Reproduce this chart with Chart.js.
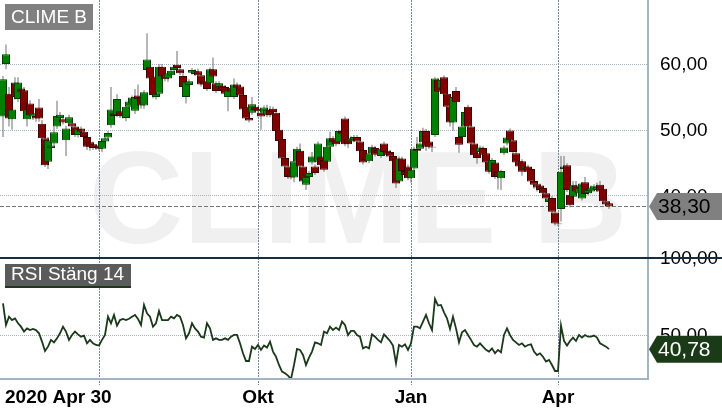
<!DOCTYPE html>
<html>
<head>
<meta charset="utf-8">
<title>CLIME B</title>
<script src="https://cdn.jsdelivr.net/npm/chart.js@4.4.1/dist/chart.umd.min.js"></script>
<style>
    html, body { margin: 0; padding: 0; background: #ffffff; }
    #wrap { position: relative; width: 722px; height: 411px; overflow: hidden; }
    #priceChart { position: absolute; left: 0; top: 0; }
    #rsiChart { position: absolute; left: 0; top: 240px; }
</style>
</head>
<body>
<div id="wrap">
    <canvas id="priceChart" width="722" height="258"></canvas>
    <canvas id="rsiChart" width="722" height="171"></canvas>
</div>
<script>
// ==========================
// DATA (daily, 2020 Apr 30 -> 2021 May)
// ==========================
const ticker = "CLIME B";
const rsiTitle = "RSI Stäng 14";

const opens = [
    52.0, 60.0, 55.5, 51.6, 57.2, 54.7, 56.3, 56.0, 51.6, 54.0,
    52.0, 52.1, 53.4, 50.9, 48.7, 45.1, 47.2, 47.9, 50.5, 51.8,
    51.6, 48.4, 51.0, 51.0, 50.5, 49.2, 50.2, 49.7, 48.9, 48.1,
    47.8, 47.5, 47.6, 47.1, 48.2, 48.8, 50.7, 52.5, 52.2, 52.8,
    52.0, 51.8, 53.5, 54.0, 52.9, 55.2, 55.0, 53.7, 59.1, 59.6,
    58.1, 55.0, 55.5, 59.6, 58.3, 57.8, 58.3, 59.1, 59.9, 59.2,
    58.2, 55.0, 56.8, 58.7, 58.5, 58.9, 58.3, 57.4, 57.3, 57.1,
    59.2, 57.1, 56.5, 56.7, 56.5, 55.0, 56.4, 55.0, 56.9, 56.6,
    55.3, 53.5, 51.8, 52.6, 53.5, 53.2, 52.6, 52.6, 52.2, 53.1,
    53.2, 52.6, 50.0, 48.6, 45.7, 44.4, 43.6, 42.7, 45.2, 46.8,
    44.4, 41.6, 42.8, 45.0, 44.4, 45.1, 45.9, 45.4, 45.1, 47.4,
    48.7, 48.4, 48.1, 49.8, 51.7, 48.6, 48.2, 48.4, 48.9, 48.2,
    46.9, 45.9, 45.2, 46.4, 47.2, 46.9, 46.0, 47.9, 46.8, 46.6,
    46.0, 45.6, 42.1, 45.6, 43.7, 44.4, 42.6, 44.1, 47.1, 47.1,
    48.1, 49.8, 48.2, 47.4, 49.2, 57.6, 56.3, 58.0, 55.5, 53.5,
    51.1, 55.9, 48.9, 48.9, 50.5, 53.5,
    50.5, 47.9, 46.4, 46.6,
    47.2, 46.4, 45.1, 43.6, 45.0, 43.6,
    42.6, 46.4, 47.9, 49.9, 48.4, 46.4, 45.2, 45.2, 44.0,
    44.4, 44.0, 42.2, 41.7, 41.5, 41.1, 40.3, 39.0, 39.6, 37.4, 35.6,
    37.9, 44.0, 44.6, 40.1, 39.8, 41.5, 40.3, 39.5, 42.0, 40.3, 40.6,
    41.0, 40.8, 41.6, 41.0, 39.1, 38.8
];

const highs = [
    58.2, 63.0, 56.5, 53.5, 58.0, 58.0, 57.0, 56.5, 53.6, 54.5,
    52.9, 52.6, 54.7, 51.5, 49.2, 48.9, 48.0, 50.5, 54.4, 52.7,
    52.0, 50.6, 52.3, 51.4, 50.9, 50.4, 50.5, 50.1, 49.3, 48.5,
    48.2, 47.8, 47.9, 48.6, 49.0, 49.8, 56.5, 52.9, 55.4, 53.2,
    52.6, 53.9, 54.6, 55.2, 56.2, 56.9, 55.4, 56.0, 64.7, 60.0,
    58.5, 55.8, 60.0, 60.0, 58.7, 58.9, 59.3, 59.9, 62.0, 59.6,
    58.6, 57.6, 57.7, 59.4, 59.2, 59.3, 58.6, 57.7, 57.6, 59.5,
    61.0, 57.4, 57.4, 57.0, 56.8, 56.3, 56.7, 57.8, 57.2, 56.9,
    55.6, 53.9, 52.1, 55.0, 53.8, 53.5, 52.9, 53.7, 53.8, 53.6,
    53.5, 52.9, 50.3, 48.9, 46.0, 44.7, 43.9, 45.5, 47.4, 47.9,
    44.7, 43.1, 43.7, 46.6, 44.7, 48.2, 46.2, 46.8, 47.7, 49.7,
    49.0, 48.7, 50.0, 51.6, 52.0, 48.9, 49.0, 49.2, 49.2, 48.5,
    47.2, 46.2, 46.7, 47.7, 47.5, 47.2, 47.4, 48.2, 47.1, 46.9,
    46.3, 45.9, 45.9, 45.9, 44.0, 44.7, 44.2, 47.4, 48.9, 48.2,
    50.3, 50.1, 48.5, 47.7, 58.0, 57.9, 57.9, 58.3, 56.0, 54.5,
    55.3, 56.5, 49.2, 50.8, 53.0, 53.8,
    50.8, 48.2, 46.7, 47.6,
    47.5, 46.7, 45.4, 45.7, 45.3, 43.9,
    43.9, 47.6, 49.1, 50.2, 48.7, 46.7, 45.5, 45.5, 44.7,
    44.7, 44.3, 42.5, 42.0, 41.8, 41.4, 40.6, 39.8, 39.9, 37.7, 36.0,
    46.0, 46.0, 44.9, 40.4, 42.2, 42.2, 41.4, 42.0, 42.8, 41.1, 41.5,
    41.7, 41.9, 42.2, 41.3, 39.4, 39.1
];

const lows = [
    48.9, 59.2, 50.5, 50.0, 54.6, 54.2, 55.4, 52.2, 50.5, 51.6,
    51.5, 51.2, 51.2, 48.2, 44.3, 44.0, 46.8, 47.5, 50.1, 51.4,
    50.8, 46.0, 50.6, 50.2, 48.9, 48.8, 49.4, 48.6, 46.9, 46.8,
    46.9, 46.9, 46.8, 46.6, 47.9, 48.5, 50.3, 51.8, 51.9, 51.8,
    51.7, 51.3, 53.2, 53.7, 52.4, 54.5, 53.2, 53.2, 58.8, 57.5,
    54.8, 54.6, 55.2, 57.8, 57.4, 57.3, 58.0, 58.8, 59.2, 58.3,
    56.2, 54.0, 56.5, 58.4, 58.2, 58.0, 56.6, 56.6, 55.9, 56.8,
    57.8, 55.6, 56.2, 55.6, 55.2, 52.8, 55.5, 54.7, 56.1, 54.9,
    52.8, 51.4, 51.1, 52.3, 52.7, 52.5, 50.0, 52.3, 51.9, 51.9,
    52.4, 49.5, 48.0, 45.3, 44.1, 42.5, 42.4, 42.0, 44.9, 44.1,
    41.8, 40.8, 42.5, 44.7, 43.1, 44.8, 44.3, 43.6, 44.8, 47.1,
    47.8, 47.5, 47.8, 49.1, 47.5, 47.2, 47.9, 48.1, 47.9, 46.4,
    44.7, 45.1, 44.9, 46.1, 45.9, 46.1, 45.7, 46.3, 45.9, 45.6,
    44.9, 41.1, 41.8, 43.4, 42.8, 42.3, 41.9, 43.8, 46.5, 46.8,
    47.8, 46.8, 47.1, 46.6, 48.9, 55.5, 56.0, 55.1, 53.2, 50.5,
    49.8, 53.9, 46.5, 48.6, 50.2, 50.2,
    47.6, 45.8, 44.8, 46.3,
    45.9, 44.7, 43.3, 43.3, 42.5, 40.9,
    40.8, 46.1, 47.6, 48.1, 46.3, 44.7, 44.1, 43.0, 43.7,
    43.3, 41.8, 41.0, 40.6, 40.5, 40.0, 39.2, 38.4, 37.2, 35.4, 35.3,
    36.0, 43.7, 40.5, 38.2, 39.5, 40.3, 40.0, 39.2, 39.9, 40.0, 40.3,
    40.7, 40.5, 40.3, 38.8, 38.3, 37.9
];

const closes = [
    57.7, 61.5, 51.7, 53.1, 55.0, 57.2, 55.8, 52.8, 53.1, 52.2,
    52.5, 51.7, 51.7, 48.7, 44.6, 48.4, 47.6, 49.6, 52.1, 52.3,
    51.1, 50.2, 51.9, 50.5, 49.2, 50.1, 49.7, 48.9, 47.4, 47.4,
    47.2, 47.2, 47.1, 48.3, 48.7, 49.5, 53.1, 52.1, 54.7, 52.1,
    52.3, 53.5, 54.3, 54.9, 55.0, 54.7, 53.7, 55.7, 60.7, 57.8,
    55.3, 55.5, 59.6, 58.1, 57.7, 58.6, 59.0, 59.6, 59.4, 58.6,
    56.5, 57.3, 57.4, 59.1, 58.9, 58.3, 56.9, 56.9, 56.2, 59.2,
    58.1, 55.9, 57.1, 55.9, 55.5, 56.0, 55.8, 56.9, 56.4, 55.2,
    53.1, 51.7, 51.4, 53.9, 53.0, 52.8, 52.0, 53.4, 53.0, 52.2,
    52.7, 49.8, 48.3, 45.6, 44.4, 42.8, 42.7, 45.2, 47.1, 44.4,
    42.1, 42.8, 43.4, 45.9, 43.4, 47.9, 44.6, 43.9, 47.4, 48.7,
    48.1, 47.8, 49.8, 49.4, 47.8, 47.8, 48.7, 48.9, 48.2, 46.7,
    45.0, 45.4, 46.4, 47.4, 46.2, 46.4, 47.1, 46.6, 46.2, 45.9,
    45.2, 41.8, 45.6, 43.7, 43.1, 42.6, 43.9, 47.1, 46.8, 47.9,
    49.8, 47.4, 47.4, 47.3, 57.8, 55.8, 57.6, 55.4, 53.5, 51.1,
    55.0, 54.2, 47.7, 50.5, 52.7, 50.5,
    47.9, 46.1, 45.7, 47.3,
    46.2, 45.0, 43.6, 45.4, 42.8, 42.8,
    43.7, 47.3, 48.8, 48.4, 46.6, 45.0, 44.4, 43.6, 44.4,
    43.6, 42.1, 41.6, 41.2, 40.8, 40.3, 39.5, 39.5, 37.5, 35.7, 35.7,
    43.6, 44.4, 40.8, 38.5, 41.6, 40.6, 41.1, 41.8, 40.2, 40.8, 41.2,
    41.4, 41.3, 40.6, 39.1, 38.6, 38.3
];

const rsi14 = [
    70.6, 56.5, 61.9, 59.7, 60.8, 57.6, 55.4, 52.2, 54.3, 53.2,
    53.9, 53.2, 51.1, 45.7, 39.6, 42.4, 46.8, 45.2, 47.8, 51.1,
    55.4, 52.2, 46.8, 50.0, 52.2, 50.4, 48.9, 49.6, 44.6, 46.8,
    44.6, 43.5, 43.1, 46.8, 50.0, 61.9, 57.6, 63.0, 56.1, 59.7,
    60.4, 59.7, 60.5, 61.9, 63.0, 60.4, 56.5, 69.5, 64.1, 61.9,
    55.4, 57.6, 65.6, 59.7, 59.7, 59.7, 61.9, 60.8, 63.0, 61.9,
    56.5, 47.8, 51.1, 57.6, 54.3, 52.2, 48.9, 48.3, 57.6, 54.3,
    46.8, 47.8, 46.8, 46.8, 47.8, 46.8, 48.9, 50.0, 50.0, 44.6,
    38.1, 33.1, 33.1, 42.4, 40.9, 43.5, 40.3, 43.1, 41.8, 45.7,
    39.2, 35.9, 30.5, 26.2, 25.1, 23.6, 21.4, 30.5, 40.9, 40.3,
    37.0, 30.5, 35.3, 39.2, 45.2, 44.6, 43.5, 52.2, 51.1, 55.4,
    53.2, 54.8, 53.2, 58.7, 56.5, 50.0, 52.6, 52.6, 50.0, 48.9,
    41.3, 42.4, 41.3, 50.4, 48.9, 46.8, 45.2, 50.4, 48.3, 46.1,
    43.1, 31.6, 43.5, 42.4, 43.9, 40.3, 44.6, 55.4, 55.4, 54.3,
    58.7, 63.0, 57.6, 53.2, 73.4, 69.1, 69.5, 64.7, 60.8, 53.9,
    61.9, 54.3, 45.2, 51.7, 53.2, 50.0, 46.8, 43.5, 42.4, 44.6,
    42.4, 40.3, 39.2, 41.3, 38.1, 40.3, 38.7, 50.0, 54.3, 50.0,
    46.8, 45.2, 43.5, 44.6, 42.4, 43.5, 43.9, 39.2, 37.0, 38.1,
    35.9, 32.7, 33.8, 30.5, 26.6, 26.6, 56.1, 46.1, 43.1, 46.1,
    48.3, 46.1, 50.0, 48.3, 50.0, 48.9, 48.9, 49.6, 48.3, 44.6,
    43.5, 42.4, 40.78
];

// axis ticks (index of first trading day in month)
const gridIdx = [32, 85, 136, 185];
const xLabels = ["2020 Apr 30", "Okt", "Jan", "Apr"];
const xLabelIdx = [0, 85, 136, 185];
const priceTicks = [40, 50, 60];
const rsiTicks = [50, 100];

// ==========================
// HELPERS
// ==========================
const FONT = '"Liberation Sans", Arial, Helvetica, sans-serif';
const fmt = v => v.toFixed(2).replace(".", ",");
const idx = closes.map((_, i) => i);
const lastClose = closes[closes.length - 1];
const lastRsi = rsi14[rsi14.length - 1];

function hLine(ctx, x1, x2, py) {
    ctx.beginPath();
    ctx.moveTo(x1, py);
    ctx.lineTo(x2, py);
    ctx.stroke();
}

function vLine(ctx, px, y1, y2) {
    ctx.beginPath();
    ctx.moveTo(px, y1);
    ctx.lineTo(px, y2);
    ctx.stroke();
}

function drawTag(ctx, tipX, cy, w, fill, color, text) {
    ctx.fillStyle = fill;
    ctx.beginPath();
    ctx.moveTo(tipX, cy);
    ctx.lineTo(tipX + 8, cy - 13.5);
    ctx.lineTo(tipX + w, cy - 13.5);
    ctx.lineTo(tipX + w, cy + 13.5);
    ctx.lineTo(tipX + 8, cy + 13.5);
    ctx.closePath();
    ctx.fill();
    ctx.fillStyle = color;
    ctx.font = "21px " + FONT;
    ctx.textAlign = "left";
    ctx.textBaseline = "middle";
    ctx.fillText(text, tipX + 9, cy + 1);
}

// ==========================
// PRICE PANEL DECOR
// ==========================
const priceDecor = {
    id: "priceDecor",
    beforeDatasetsDraw(chart) {
        const { ctx, chartArea: a, scales: { x, y } } = chart;
        ctx.save();

        // watermark
        ctx.fillStyle = "#f0f0f0";
        ctx.font = "bold 131px " + FONT;
        ctx.textAlign = "center";
        ctx.textBaseline = "alphabetic";
        ctx.fillText(ticker, 358, 243);

        // horizontal grid
        ctx.lineWidth = 1;
        ctx.strokeStyle = "#a6b3bf";
        ctx.setLineDash([1, 1]);
        priceTicks.forEach(v => hLine(ctx, a.left, a.right, Math.round(y.getPixelForValue(v)) + 0.5));

        // vertical grid
        ctx.strokeStyle = "#6f8aa0";
        ctx.setLineDash([2, 1]);
        gridIdx.forEach(i => vLine(ctx, Math.round(x.getPixelForValue(i)) + 0.5, a.top, a.bottom));

        // last close line
        ctx.strokeStyle = "#777777";
        ctx.setLineDash([4, 2]);
        hLine(ctx, a.left, a.right, Math.round(y.getPixelForValue(lastClose)) + 0.5);
        ctx.restore();
    },
    afterDraw(chart) {
        const { ctx, chartArea: a, scales: { y } } = chart;
        ctx.save();

        // right separator
        ctx.strokeStyle = "#a3b4c6";
        ctx.lineWidth = 2;
        vLine(ctx, a.right, 0, chart.height);

        // price labels
        ctx.fillStyle = "#000000";
        ctx.font = "19px " + FONT;
        ctx.textAlign = "left";
        ctx.textBaseline = "middle";
        priceTicks.forEach(v => ctx.fillText(fmt(v), a.right + 12, y.getPixelForValue(v) + 1));

        // last price tag
        drawTag(ctx, a.right + 1, y.getPixelForValue(lastClose), 80, "#808080", "#000000", fmt(lastClose));

        // title box
        ctx.fillStyle = "#808080";
        ctx.fillRect(5, 4, 88, 26);
        ctx.fillStyle = "#ffffff";
        ctx.font = "19px " + FONT;
        ctx.textAlign = "left";
        ctx.textBaseline = "middle";
        ctx.fillText(ticker, 11, 18);
        ctx.restore();
    }
};

// ==========================
// RSI PANEL DECOR
// ==========================
const rsiDecor = {
    id: "rsiDecor",
    beforeDatasetsDraw(chart) {
        const { ctx, chartArea: a, scales: { x, y } } = chart;
        ctx.save();
        ctx.lineWidth = 1;
        ctx.strokeStyle = "#a6b3bf";
        ctx.setLineDash([1, 1]);
        hLine(ctx, a.left, a.right, Math.round(y.getPixelForValue(50)) + 0.5);

        ctx.strokeStyle = "#6f8aa0";
        ctx.setLineDash([2, 1]);
        gridIdx.forEach(i => vLine(ctx, Math.round(x.getPixelForValue(i)) + 0.5, a.top, a.bottom + 6));
        ctx.restore();
    },
    afterDraw(chart) {
        const { ctx, chartArea: a, scales: { x, y } } = chart;
        ctx.save();

        // labels on the right
        ctx.fillStyle = "#000000";
        ctx.font = "19px " + FONT;
        ctx.textAlign = "left";
        ctx.textBaseline = "middle";
        rsiTicks.forEach(v => ctx.fillText(fmt(v), a.right + 12, y.getPixelForValue(v) + 1));

        // frame lines
        ctx.lineWidth = 2;
        ctx.strokeStyle = "#a3b4c6";
        hLine(ctx, 0, a.right + 1, a.bottom);
        vLine(ctx, a.right, a.top, a.bottom + 1);
        ctx.strokeStyle = "#152d3c";
        hLine(ctx, 0, chart.width, a.top);

        // RSI tag
        drawTag(ctx, a.right + 1, y.getPixelForValue(lastRsi), 80, "#1b3a17", "#ffffff", fmt(lastRsi));

        // title box
        ctx.fillStyle = "#5b5b5b";
        ctx.fillRect(5, 24, 126, 22);
        ctx.fillStyle = "#1d3a1d";
        ctx.fillRect(5, 46, 126, 2);
        ctx.fillStyle = "#ffffff";
        ctx.font = "19px " + FONT;
        ctx.textAlign = "left";
        ctx.textBaseline = "middle";
        ctx.fillText(rsiTitle, 11, 35);

        // x axis labels
        ctx.fillStyle = "#000000";
        ctx.font = "bold 19px " + FONT;
        ctx.textBaseline = "alphabetic";
        xLabels.forEach((t, k) => {
            const px = x.getPixelForValue(xLabelIdx[k]);
            if (k === 0) {
                ctx.textAlign = "left";
                ctx.fillText(t, px + 2, 163);
            } else {
                ctx.textAlign = "center";
                ctx.fillText(t, px, 163);
            }
        });
        ctx.restore();
    }
};

// ==========================
// CHARTS
// ==========================
const xScale = { type: "linear", min: -1, max: 215, display: false, offset: false };

new Chart(document.getElementById("priceChart"), {
    type: "bar",
    data: {
        datasets: [
            {
                label: "wick",
                data: idx.map(i => ({ x: i, y: [lows[i], highs[i]] })),
                backgroundColor: "#707070",
                borderWidth: 0,
                barThickness: 1,
                grouped: false,
                inflateAmount: 0,
                order: 2
            },
            {
                label: "body",
                data: idx.map(i => ({ x: i, y: [opens[i], closes[i]] })),
                backgroundColor: idx.map(i => closes[i] >= opens[i] ? "#008000" : "#800000"),
                borderColor: idx.map(i => closes[i] >= opens[i] ? "#004000" : "#400000"),
                borderWidth: 1,
                borderSkipped: false,
                barThickness: 8,
                grouped: false,
                inflateAmount: 0,
                order: 1
            }
        ]
    },
    options: {
        responsive: false,
        animation: false,
        devicePixelRatio: 1,
        events: [],
        layout: { padding: { left: 0, right: 74, top: 0, bottom: 0 } },
        scales: {
            x: xScale,
            y: { type: "linear", min: 30.45, max: 69.77, display: false }
        },
        plugins: { legend: { display: false }, tooltip: { enabled: false } }
    },
    plugins: [priceDecor]
});

new Chart(document.getElementById("rsiChart"), {
    type: "line",
    data: {
        datasets: [{
            label: rsiTitle,
            data: rsi14.map((v, i) => ({ x: i, y: v })),
            borderColor: "#1a381a",
            borderWidth: 1.8,
            pointRadius: 0,
            tension: 0,
            fill: false
        }]
    },
    options: {
        responsive: false,
        animation: false,
        devicePixelRatio: 1,
        events: [],
        layout: { padding: { left: 0, right: 74, top: 18, bottom: 32 } },
        scales: {
            x: xScale,
            y: { type: "linear", min: 21.4, max: 100, display: false }
        },
        plugins: { legend: { display: false }, tooltip: { enabled: false } }
    },
    plugins: [rsiDecor]
});
</script>
</body>
</html>
